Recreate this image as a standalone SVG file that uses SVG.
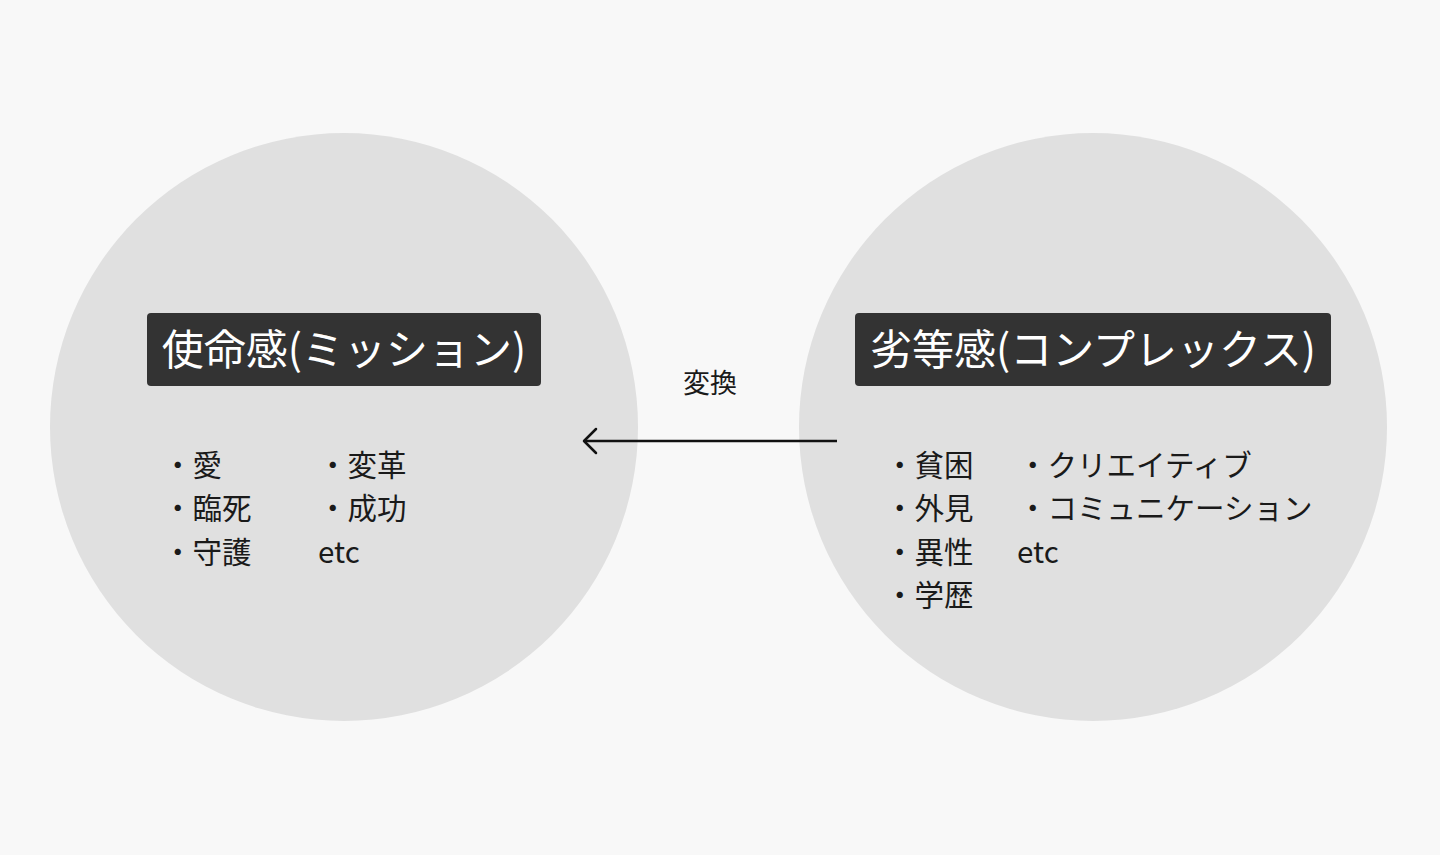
<svg xmlns="http://www.w3.org/2000/svg" width="1440" height="855" viewBox="0 0 1440 855">
<defs>
<style>
.bg{fill:#f8f8f8}
.circle{fill:#e0e0e0}
.box{fill:#333333}
.title{font-family:"Noto Sans CJK JP","Noto Sans",sans-serif;font-size:42px;fill:#ffffff}
.item{font-family:"Noto Sans CJK JP","Noto Sans",sans-serif;font-size:29.5px;fill:#1a1a1a}
.lbl{font-family:"Noto Sans CJK JP","Noto Sans",sans-serif;font-size:27px;fill:#1a1a1a}
.conn{stroke:#111111;stroke-width:2.5;fill:none}
</style>
<marker id="arrow" viewBox="0 0 20 30" refX="16" refY="15" markerWidth="20" markerHeight="30" markerUnits="userSpaceOnUse" orient="auto">
<path d="M4,3 L16,15 L4,27" fill="none" stroke="#111111" stroke-width="2.5" stroke-linecap="round" stroke-linejoin="round"/>
</marker>
</defs>
<rect class="bg" x="0" y="0" width="1440" height="855"/>
<g id="mission">
<circle class="circle" cx="344" cy="427" r="294"/>
<rect class="box" x="147" y="313" width="394" height="73" rx="4"/>
<text class="title" x="344" y="365" text-anchor="middle">使命感(ミッション)</text>
<text class="item" x="163" y="476">・愛</text>
<text class="item" x="163" y="519">・臨死</text>
<text class="item" x="163" y="563">・守護</text>
<text class="item" x="318" y="476">・変革</text>
<text class="item" x="318" y="519">・成功</text>
<text class="item" x="318" y="563">etc</text>
</g>
<g id="complex">
<circle class="circle" cx="1093" cy="427" r="294"/>
<rect class="box" x="855" y="313" width="476" height="73" rx="4"/>
<text class="title" x="1093" y="365" text-anchor="middle">劣等感(コンプレックス)</text>
<text class="item" x="885" y="476">・貧困</text>
<text class="item" x="885" y="519">・外見</text>
<text class="item" x="885" y="563">・異性</text>
<text class="item" x="885" y="606">・学歴</text>
<text class="item" x="1018" y="476">・クリエイティブ</text>
<text class="item" x="1018" y="519">・コミュニケーション</text>
<text class="item" x="1017" y="563">etc</text>
</g>
<g id="connectors">
<line class="conn" x1="837" y1="441" x2="584" y2="441" marker-end="url(#arrow)"/>
<text class="lbl" x="710" y="393" text-anchor="middle">変換</text>
</g>
</svg>
